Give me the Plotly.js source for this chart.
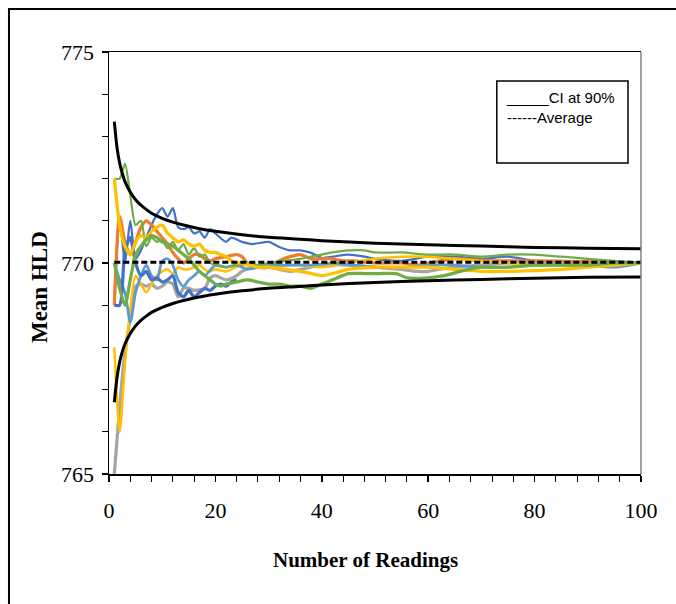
<!DOCTYPE html>
<html>
<head>
<meta charset="utf-8">
<script src="https://cdn.plot.ly/plotly-3.0.1.min.js"></script>
<style>html,body{margin:0;padding:0;background:#fff;}#chart{width:676px;height:604px;}</style>
</head>
<body>
<div id="chart"></div>
<script>
// ---- Data ----
const ciX = [1,1.5,2,2.5,3,4,5,6,7,8,10,12,14,16,18,20,25,30,35,40,50,60,70,80,90,100];
const ciUpper = [773.35,772.74,772.37,772.12,771.93,771.68,771.50,771.37,771.27,771.18,771.06,770.97,770.90,770.84,770.79,770.75,770.67,770.61,770.57,770.53,770.47,770.43,770.40,770.37,770.35,770.34];
const ciLower = [766.70,767.28,767.65,767.90,768.08,768.33,768.51,768.64,768.74,768.83,768.95,769.04,769.11,769.17,769.22,769.26,769.34,769.40,769.44,769.48,769.54,769.58,769.61,769.64,769.66,769.67];
const avgX = [1,100];
const avgY = [770.02,770.02];

const blueThinX = [1,2,3,4,5,6,7,8,9,10,11,12,13,14,15,16,17,18,19,20,22,23,25,27,30,32,34,36,38,40,42,45,48,50,55,60,65,70,75,80,85,90,95,100];
const blueThinY = [769.0,771.1,770.0,771.0,770.1,770.3,770.6,770.9,771.15,771.3,771.1,771.3,770.85,770.8,770.85,770.7,770.75,770.6,770.8,770.7,770.5,770.6,770.5,770.45,770.5,770.38,770.3,770.3,770.24,770.12,770.15,770.2,770.15,770.1,770.05,770.15,770.15,770.1,770.15,770.05,770.05,770.0,770.0,770.0];

const orangeX = [1,2,3,4,5,6,7,8,9,10,11,12,13,14,15,16,17,18,19,20,22,24,25,26,28,30,32,34,36,38,40,42,44,46,50,55,58,60,65,68,72,80,90,100];
const orangeY = [769.0,771.1,770.5,770.2,770.5,770.85,771.0,770.9,770.75,770.6,770.45,770.25,770.1,770.0,770.1,770.2,770.2,770.1,770.05,770.1,770.15,770.2,770.15,770.0,769.9,769.9,770.05,770.15,770.2,770.1,770.1,770.1,770.05,770.05,770.0,770.0,769.95,770.0,770.1,770.08,770.05,770.05,770.03,770.0];

const grayX = [1,2,3,4,4.5,5,6,7,8,9,10,11,12,13,14,15,16,18,19,20,22,24,25,27,30,32,34,36,40,45,50,55,58,60,62,65,70,75,80,85,90,95,100];
const grayY = [765.0,766.6,767.9,768.7,769.2,769.45,769.5,769.45,769.5,769.4,769.45,769.55,769.5,769.2,769.4,769.4,769.35,769.4,769.65,769.7,769.6,769.7,769.8,769.9,769.9,769.85,769.8,769.85,769.95,769.95,769.9,769.85,769.8,769.8,769.85,769.9,769.95,770.0,770.0,769.98,769.95,770.0,770.0];

const yellowThinX = [1,2,3,4,5,6,7,8,9,10,11,12,13,14,15,16,17,18,19,20,22,25,30,35,40,45,50,55,60,65,70,75,80,90,100];
const yellowThinY = [768.0,766.0,767.6,768.9,769.7,769.5,769.3,769.5,769.7,769.8,769.85,769.75,769.9,769.85,769.85,769.9,769.95,769.85,769.8,769.85,769.8,769.95,769.9,769.95,769.9,770.0,770.1,770.15,770.15,770.1,770.05,770.0,769.95,769.97,770.0];

const lightBlueX = [1,2,3,4,5,6,7,8,9,10,11,12,13,14,15,16,17,18,20,22,24,26,28,30,34,38,42,46,50,55,60,65,70,75,80,85,90,95,100];
const lightBlueY = [770.0,769.6,769.3,768.6,769.3,769.7,769.95,769.7,769.6,770.05,770.1,769.95,769.6,769.45,769.6,769.7,769.8,769.7,769.95,769.9,769.95,769.85,769.9,769.95,769.95,769.95,770.0,769.95,769.9,769.9,769.95,769.95,769.9,769.9,769.95,769.95,769.95,769.9,770.0];

const greenThinX = [1,2,3,4,5,6,7,8,9,10,11,12,13,14,15,16,17,18,19,20,22,24,26,28,30,33,36,38,40,42,45,48,50,55,60,65,70,75,80,85,90,95,100];
const greenThinY = [772.0,772.0,772.35,771.6,770.9,771.0,770.4,770.6,770.5,770.55,770.35,770.5,770.3,770.45,770.2,770.35,770.15,770.2,770.0,769.95,769.9,769.95,770.0,769.95,770.0,770.05,770.1,770.15,770.2,770.25,770.3,770.3,770.25,770.25,770.2,770.2,770.15,770.2,770.2,770.15,770.1,770.05,770.0];

const blueThickX = [1,2,3,4,5,6,7,8,9,10,11,12,13,14,15,16,17,18,19,20,21,22,23,24];
const blueThickY = [769.0,769.0,770.3,770.6,770.0,769.7,769.8,769.6,769.65,769.55,769.6,769.7,769.3,769.2,769.35,769.2,769.3,769.4,769.35,769.45,769.5,769.45,769.55,769.6];

const yellowThickX = [1,2,3,4,5,6,7,8,9,10,11,12,13,14,15,16,17,18,19,20,21,22,23,24,25,28,30,33,36,38,40,42,45,50,55,60,65,70,75,80,85,90,95,100];
const yellowThickY = [772.0,770.9,770.4,770.2,770.5,770.65,770.6,770.75,770.85,770.9,770.7,770.6,770.5,770.55,770.45,770.4,770.45,770.3,770.25,770.25,770.2,770.15,770.05,770.0,770.0,769.9,769.9,769.85,769.8,769.75,769.7,769.75,769.85,769.9,769.9,769.9,769.85,769.8,769.8,769.82,769.85,769.9,769.95,770.0];

const greenThickX = [1,2,3,4,5,6,7,8,9,10,11,12,13,14,15,16,17,18,19,20,21,22,24,26,28,30,32,34,36,38,40,42,45,48,51,54,56,60,63,66,70,75,80,85,90,95,100];
const greenThickY = [770.0,769.4,769.0,769.6,770.2,770.4,770.55,770.65,770.6,770.5,770.45,770.4,770.3,770.2,770.1,769.95,769.8,769.7,769.6,769.5,769.45,769.5,769.55,769.6,769.55,769.5,769.5,769.45,769.45,769.4,769.5,769.6,769.75,769.75,769.75,769.75,769.65,769.65,769.7,769.8,769.9,769.9,769.95,769.95,769.95,770.0,770.0];

const xTickLabels = ['0','20','40','60','80','100'];
const yTickLabels = ['765','770','775'];
const legendLines = ['_____CI at 90%','------Average'];

// ---- Traces ----
function line(x, y, color, width, extra) {
  return Object.assign({x: x, y: y, type: 'scatter', mode: 'lines', hoverinfo: 'skip',
    line: {color: color, width: width, shape: 'spline', smoothing: 0.7}}, extra || {});
}
const traces = [
  line(blueThinX, blueThinY, '#4472C4', 2.25),
  line(orangeX, orangeY, '#ED7D31', 3.25),
  line(grayX, grayY, '#A5A5A5', 3.25),
  line(yellowThinX, yellowThinY, '#FFC000', 2.5),
  line(lightBlueX, lightBlueY, '#5B9BD5', 2.75),
  line(greenThinX, greenThinY, '#70AD47', 2.25),
  line(blueThickX, blueThickY, '#4472C4', 3.25),
  line(yellowThickX, yellowThickY, '#FFC000', 3.25),
  line(greenThickX, greenThickY, '#70AD47', 3.25),
  line(ciX, ciUpper, '#000000', 3),
  line(ciX, ciLower, '#000000', 3),
  {x: avgX, y: avgY, type: 'scatter', mode: 'lines', hoverinfo: 'skip',
   line: {color: '#000000', width: 3, dash: '6px,3px'}}
];

const tickFont = {family: 'Liberation Serif, Times New Roman, serif', size: 22, color: '#000'};
const titleFont = {family: 'Liberation Serif, Times New Roman, serif', size: 21, color: '#000', weight: 'bold'};
const yTitleFont = {family: 'Liberation Serif, Times New Roman, serif', size: 23, color: '#000', weight: 'bold'};
const legFont = {family: 'Liberation Sans, Arial, sans-serif', size: 15, color: '#000'};

const layout = {
  width: 676, height: 604,
  margin: {l: 109, r: 35, t: 52, b: 130},
  paper_bgcolor: '#fff', plot_bgcolor: '#fff',
  showlegend: false,
  xaxis: {
    range: [0, 100], tickmode: 'array', tickvals: xTickLabels.map(Number), ticktext: xTickLabels,
    ticks: 'outside', ticklen: 6, tickwidth: 1.5, tickcolor: '#000',
    showline: true, linecolor: '#000', linewidth: 1.5, mirror: true,
    showgrid: false, zeroline: false, tickfont: tickFont, ticklabelstandoff: 10,
    minor: {dtick: 4, tick0: 0, ticks: 'outside', ticklen: 6, tickwidth: 1, tickcolor: '#000', showgrid: false}
  },
  yaxis: {
    range: [765, 775], tickmode: 'array', tickvals: yTickLabels.map(Number), ticktext: yTickLabels,
    ticks: 'outside', ticklen: 6, tickwidth: 1.5, tickcolor: '#000',
    showline: true, linecolor: '#000', linewidth: 1.5, mirror: false,
    showgrid: false, zeroline: false, tickfont: tickFont, ticklabelstandoff: 3,
    minor: {dtick: 1, tick0: 765, ticks: 'outside', ticklen: 6, tickwidth: 1, tickcolor: '#000', showgrid: false}
  },
  shapes: [
    {type: 'line', xref: 'paper', yref: 'paper', x0: 1, x1: 1, y0: 0, y1: 1, line: {color: '#808080', width: 1.5}},
    {type: 'rect', xref: 'paper', yref: 'paper', x0: 0.729, x1: 0.9756, y0: 0.737, y1: 0.931, line: {color: '#000', width: 1.5}, fillcolor: 'rgba(255,255,255,1)', layer: 'above'},
    {type: 'rect', xref: 'paper', yref: 'paper', x0: -0.188, x1: 1.2, y0: -0.5, y1: 1.102, line: {color: '#000', width: 2}}
  ],
  annotations: [
    {text: 'Number of Readings', xref: 'paper', yref: 'paper', x: 0.483, y: -0.204, xanchor: 'center', yanchor: 'middle', showarrow: false, font: titleFont},
    {text: 'Mean HLD', xref: 'paper', yref: 'paper', x: -0.1316, y: 0.443, xanchor: 'center', yanchor: 'middle', textangle: -90, showarrow: false, font: yTitleFont},
    {text: legendLines.join('<br>'), xref: 'paper', yref: 'paper', x: 0.742, y: 0.868, xanchor: 'left', yanchor: 'middle', align: 'left', showarrow: false, font: legFont}
  ]
};

Plotly.newPlot('chart', traces, layout, {staticPlot: true, displayModeBar: false});
</script>
</body>
</html>
